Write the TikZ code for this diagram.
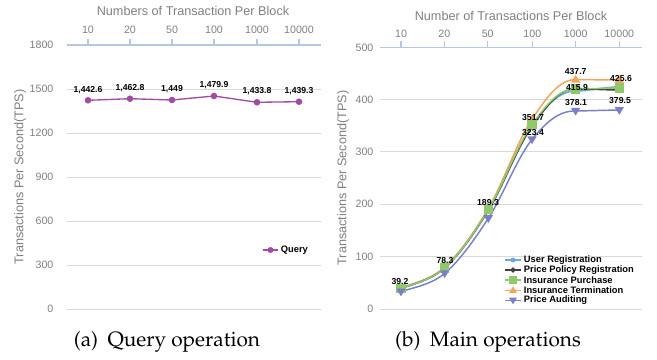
\documentclass[tikz,border=0pt]{standalone}
\usepackage{fontspec}
\newfontfamily\chartfont{Liberation Sans}
\usetikzlibrary{positioning,calc}

\definecolor{gridgray}{HTML}{D9D9D9}
\definecolor{axblue}{HTML}{B4C7E7}
\definecolor{labgray}{HTML}{808080}
\definecolor{qpurple}{HTML}{A04CA4}
\definecolor{sblue}{HTML}{6FA8DC}
\definecolor{sblack}{HTML}{404040}
\definecolor{sgreen}{HTML}{8FC96A}
\definecolor{sorange}{HTML}{F5A25C}
\definecolor{spurple}{HTML}{7B7FCB}

\tikzset{
	gridln/.style={draw=gridgray,line width=0.6pt},
	axln/.style={draw=axblue,line width=0.8pt},
	ticklab/.style={text=labgray,font=\chartfont\fontsize{8}{9}\selectfont,inner sep=1pt},
	axtitle/.style={text=labgray,font=\chartfont\fontsize{9.5}{11}\selectfont,inner sep=1pt},
	datlab/.style={font=\chartfont\bfseries\fontsize{6.5}{7}\selectfont,inner sep=0.5pt},
	leglab/.style={font=\chartfont\bfseries\fontsize{7}{8}\selectfont,anchor=west,inner sep=0.5pt},
	caplab/.style={font=\fontsize{15.6}{18}\usefont{OT1}{ppl}{m}{n}},
	serline/.style={line width=1.1pt}
}

% smoothed series through the six points #11 ... #16
\newcommand{\sercurve}[2]{%
	\draw[serline,#2] (#11)
		.. controls ($(#11)!0.1667!(#12)$) and ($(#12)+0.1667*(#11)-0.1667*(#13)$) .. (#12)
		.. controls ($(#12)+0.1667*(#13)-0.1667*(#11)$) and ($(#13)+0.1667*(#12)-0.1667*(#14)$) .. (#13)
		.. controls ($(#13)+0.1667*(#14)-0.1667*(#12)$) and ($(#14)+0.1667*(#13)-0.1667*(#15)$) .. (#14)
		.. controls ($(#14)+0.1667*(#15)-0.1667*(#13)$) and ($(#15)+(-17,0)$) .. (#15)
		.. controls ($(#15)+(14,0)$) and ($(#16)+(-14,0)$) .. (#16);}

\begin{document}
\begin{tikzpicture}[x=0.75pt,y=-0.75pt]
	\useasboundingbox (0,0) rectangle (657,360);

	% (a) query operation
	\foreach \v/\yy in {0/309,300/265,600/221,900/177,1200/133,1500/89}{
		\draw[gridln] (67,\yy) -- (321,\yy);
		\node[ticklab,anchor=east] (qy\v) at (55,\yy) {\v};
	}
	\node[ticklab,anchor=east] (qy1800) at (55,45) {1800};
	\draw[axln] (67,45) -- (321,45);
	\foreach \n/\xx in {10/88,20/130,50/172,100/214,1000/257,10000/299}{
		\draw[axln] (\xx,39) -- (\xx,45);
		\node[ticklab] (qx\n) at (\xx,30) {\n};
	}
	\node[axtitle] (qtitle) at (193,11) {Numbers of Transaction Per Block};
	\node[axtitle,rotate=90] (qytitle) at (20,177) {Transactions Per Second(TPS)};

	\coordinate (q1) at (88,100.3);
	\coordinate (q2) at (130,98.7);
	\coordinate (q3) at (172,100);
	\coordinate (q4) at (214,96);
	\coordinate (q5) at (257,102.3);
	\coordinate (q6) at (299,101.7);
	\draw[qpurple,line width=1pt] (q1) -- (q2) -- (q3) -- (q4) -- (q5) -- (q6);
	\foreach \p in {1,...,6} \fill[qpurple] (q\p) circle (3.3);
	\node[datlab] (ql1) at (88,90) {1,442.6};
	\node[datlab] (ql2) at (130,88) {1,462.8};
	\node[datlab] (ql3) at (172,89.5) {1,449};
	\node[datlab] (ql4) at (214,85.5) {1,479.9};
	\node[datlab] (ql5) at (257,91.5) {1,433.8};
	\node[datlab] (ql6) at (299,91) {1,439.3};

	% legend
	\coordinate (qlg) at (270.5,250);
	\draw[qpurple,line width=1pt] ([xshift=-5.5]qlg) -- ([xshift=5.5]qlg);
	\fill[qpurple] (qlg) circle (3);
	\node[leglab] (qquery) at (280,250) {Query};

	\node[caplab] (capa) at (167,342) {(a)\hspace{0.45em}Query operation};

	% (b) main operations
	\foreach \v/\yy in {0/309,100/256.6,200/204.2,300/151.8,400/99.4}{
		\draw[gridln] (380,\yy) -- (642,\yy);
		\node[ticklab,anchor=east] (my\v) at (375,\yy) {\v};
	}
	\node[ticklab,anchor=east] (my500) at (375,47.5) {500};
	\draw[axln] (380,47.5) -- (642,47.5);
	\foreach \n/\xx in {10/401,20/444.3,50/487.7,100/532.3,1000/575.7,10000/619.3}{
		\draw[axln] (\xx,41.5) -- (\xx,47.5);
		\node[ticklab] (mx\n) at (\xx,34) {\n};
	}
	\node[axtitle] (mtitle) at (511,16) {Number of Transactions Per Block};
	\node[axtitle,rotate=90] (mytitle) at (343,178) {Transactions Per Second(TPS)};

	% user registration
	\foreach \k/\yy in {1/288.5,2/268,3/209.8,4/125.6,5/91.1,6/86.8}
		\coordinate (ur\k) at ({401+43.66*(\k-1)},\yy);
	% price policy registration
	\foreach \k/\yy in {1/288.6,2/268.1,3/210.5,4/126.6,5/88.9,6/90}
		\coordinate (pp\k) at ({401+43.66*(\k-1)},\yy);
	% insurance purchase
	\foreach \k/\yy in {1/288.5,2/268,3/209.8,4/124.7,5/88.9,6/88.1}
		\coordinate (ip\k) at ({401+43.66*(\k-1)},\yy);
	% insurance termination
	\foreach \k/\yy in {1/288,2/267.1,3/208.4,4/119.3,5/79.6,6/80}
		\coordinate (it\k) at ({401+43.66*(\k-1)},\yy);
	% price auditing
	\foreach \k/\yy in {1/291.7,2/273.4,3/218.3,4/139.5,5/110.9,6/110.1}
		\coordinate (pa\k) at ({401+43.66*(\k-1)},\yy);

	\sercurve{it}{sorange}
	\sercurve{ur}{sblue}
	\sercurve{pp}{sblack}
	\sercurve{ip}{sgreen}
	\sercurve{pa}{spurple}
	\foreach \k in {1,...,6}{
		\fill[sorange] ([yshift=3.5]it\k) -- ([xshift=3.5,yshift=-2.3]it\k) -- ([xshift=-3.5,yshift=-2.3]it\k) -- cycle;
		\fill[sblue] (ur\k) circle (3);
		\fill[sblack] ([yshift=-2.5]pp\k) -- ([xshift=2.5]pp\k) -- ([yshift=2.5]pp\k) -- ([xshift=-2.5]pp\k) -- cycle;
		\fill[sgreen] ([xshift=-3.5,yshift=-3.5]ip\k) rectangle ([xshift=3.5,yshift=3.5]ip\k);
		\fill[spurple] ([yshift=-3.5]pa\k) -- ([xshift=3.5,yshift=2.3]pa\k) -- ([xshift=-3.5,yshift=2.3]pa\k) -- cycle;
	}

	\node[datlab] (ml1) at (400,281.5) {39.2};
	\node[datlab] (ml2) at (445,261) {78.3};
	\node[datlab] (ml3) at (488,203) {189.3};
	\node[datlab] (ml4) at (533,117.5) {351.7};
	\node[datlab] (ml5) at (533,133) {323.4};
	\node[datlab] (ml6) at (575.7,71.5) {437.7};
	\node[datlab] (ml7) at (577,88) {415.9};
	\node[datlab] (ml8) at (576,103) {378.1};
	\node[datlab] (ml9) at (621,79) {425.6};
	\node[datlab] (ml10) at (620,101) {379.5};

	% legend
	\coordinate (lg1) at (513,260);
	\coordinate (lg2) at (513,270);
	\coordinate (lg3) at (513,280.2);
	\coordinate (lg4) at (513,290.3);
	\coordinate (lg5) at (513,300.3);
	\draw[sblue,line width=1.1pt] ([xshift=-6]lg1) -- ([xshift=6]lg1);
	\fill[sblue] (lg1) circle (2.5);
	\draw[sblack,line width=1.1pt] ([xshift=-6]lg2) -- ([xshift=6]lg2);
	\fill[sblack] ([yshift=-2.2]lg2) -- ([xshift=2.2]lg2) -- ([yshift=2.2]lg2) -- ([xshift=-2.2]lg2) -- cycle;
	\draw[sgreen,line width=1.1pt] ([xshift=-6]lg3) -- ([xshift=6]lg3);
	\fill[sgreen] ([xshift=-2.8,yshift=-2.8]lg3) rectangle ([xshift=2.8,yshift=2.8]lg3);
	\draw[sorange,line width=1.1pt] ([xshift=-6]lg4) -- ([xshift=6]lg4);
	\fill[sorange] ([yshift=3]lg4) -- ([xshift=3,yshift=-2]lg4) -- ([xshift=-3,yshift=-2]lg4) -- cycle;
	\draw[spurple,line width=1.1pt] ([xshift=-6]lg5) -- ([xshift=6]lg5);
	\fill[spurple] ([yshift=-3]lg5) -- ([xshift=3,yshift=2]lg5) -- ([xshift=-3,yshift=2]lg5) -- cycle;
	\node[leglab] (lgt1) at (523,260) {User Registration};
	\node[leglab] (lgt2) at (523,270) {Price Policy Registration};
	\node[leglab] (lgt3) at (523,280.2) {Insurance Purchase};
	\node[leglab] (lgt4) at (523,290.3) {Insurance Termination};
	\node[leglab] (lgt5) at (523,300.3) {Price Auditing};

	\node[caplab] (capb) at (488,342) {(b)\hspace{0.45em}Main operations};
\end{tikzpicture}
\end{document}
